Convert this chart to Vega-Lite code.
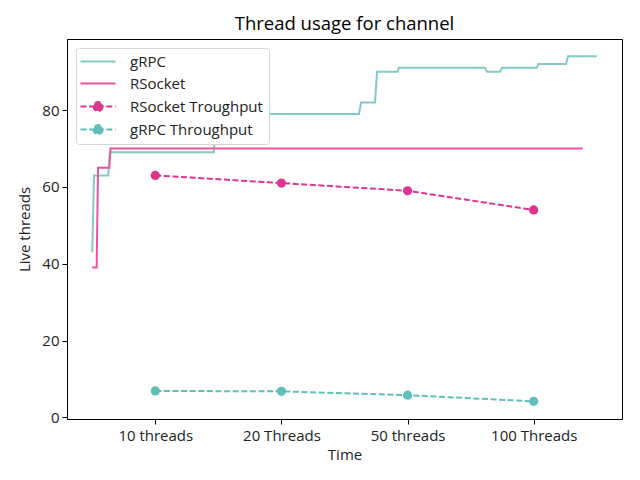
{
  "$schema": "https://vega.github.io/schema/vega-lite/v6.json",
  "width": 555,
  "height": 380,
  "autosize": {"type": "none"},
  "padding": {"left": 67, "top": 39, "right": 18, "bottom": 61},
  "title": {"text": "Thread usage for channel", "fontSize": 18.5, "fontWeight": "normal", "color": "#000", "offset": 6, "anchor": "middle"},
  "data": {"values": [
    {"series": "gRPC", "i": 0, "x": -0.5, "y": 43},
    {"series": "gRPC", "i": 1, "x": -0.486, "y": 63},
    {"series": "gRPC", "i": 2, "x": -0.373, "y": 63},
    {"series": "gRPC", "i": 3, "x": -0.359, "y": 69},
    {"series": "gRPC", "i": 4, "x": 0.465, "y": 69},
    {"series": "gRPC", "i": 5, "x": 0.481, "y": 79},
    {"series": "gRPC", "i": 6, "x": 1.615, "y": 79},
    {"series": "gRPC", "i": 7, "x": 1.631, "y": 82},
    {"series": "gRPC", "i": 8, "x": 1.742, "y": 82},
    {"series": "gRPC", "i": 9, "x": 1.758, "y": 90},
    {"series": "gRPC", "i": 10, "x": 1.919, "y": 90},
    {"series": "gRPC", "i": 11, "x": 1.932, "y": 91},
    {"series": "gRPC", "i": 12, "x": 2.614, "y": 91},
    {"series": "gRPC", "i": 13, "x": 2.63, "y": 90},
    {"series": "gRPC", "i": 14, "x": 2.733, "y": 90},
    {"series": "gRPC", "i": 15, "x": 2.749, "y": 91},
    {"series": "gRPC", "i": 16, "x": 3.024, "y": 91},
    {"series": "gRPC", "i": 17, "x": 3.038, "y": 92},
    {"series": "gRPC", "i": 18, "x": 3.256, "y": 92},
    {"series": "gRPC", "i": 19, "x": 3.272, "y": 94},
    {"series": "gRPC", "i": 20, "x": 3.5, "y": 94},
    {"series": "RSocket", "i": 0, "x": -0.5, "y": 39},
    {"series": "RSocket", "i": 1, "x": -0.465, "y": 39},
    {"series": "RSocket", "i": 2, "x": -0.454, "y": 65},
    {"series": "RSocket", "i": 3, "x": -0.365, "y": 65},
    {"series": "RSocket", "i": 4, "x": -0.355, "y": 70},
    {"series": "RSocket", "i": 5, "x": 3.388, "y": 70},
    {"series": "RSocket Troughput", "i": 0, "x": 0, "y": 63},
    {"series": "RSocket Troughput", "i": 1, "x": 1, "y": 61},
    {"series": "RSocket Troughput", "i": 2, "x": 2, "y": 59},
    {"series": "RSocket Troughput", "i": 3, "x": 3, "y": 54},
    {"series": "gRPC Throughput", "i": 0, "x": 0, "y": 6.9},
    {"series": "gRPC Throughput", "i": 1, "x": 1, "y": 6.8},
    {"series": "gRPC Throughput", "i": 2, "x": 2, "y": 5.8},
    {"series": "gRPC Throughput", "i": 3, "x": 3, "y": 4.2}
  ]},
  "encoding": {
    "x": {"field": "x", "type": "quantitative", "title": "Time",
      "scale": {"domain": [-0.7, 3.7], "nice": false, "zero": false},
      "axis": {"values": [0, 1, 2, 3], "labelExpr": "['10 threads','20 Threads','50 threads','100 Threads'][datum.value]", "labelPadding": 4, "titlePadding": 4}},
    "y": {"field": "y", "type": "quantitative", "title": "Live threads",
      "scale": {"domain": [-0.4, 98.5], "nice": false, "zero": false},
      "axis": {"values": [0, 20, 40, 60, 80], "titlePadding": 9}},
    "color": {"field": "series", "type": "nominal",
      "scale": {"domain": ["gRPC", "RSocket", "RSocket Troughput", "gRPC Throughput"], "range": ["#80cbc8", "#e8559f", "#dd3592", "#5fbfbb"]}},
    "order": {"field": "i", "type": "quantitative"}
  },
  "layer": [
    {
      "transform": [{"filter": "datum.series == 'gRPC' || datum.series == 'RSocket'"}],
      "mark": {"type": "line", "strokeWidth": 2},
      "encoding": {
        "color": {"field": "series", "type": "nominal",
          "legend": {
            "title": null, "orient": "top-left", "offset": 9,
            "symbolSize": 100, "symbolStrokeWidth": 2, "labelOffset": 33,
            "labelFontSize": 15, "labelColor": "#222", "rowPadding": 6,
            "padding": 6, "fillColor": "white", "strokeColor": "#d5d5d5", "cornerRadius": 3,
            "encode": {"symbols": {"update": {
              "shape": {"signal": "(datum.value == 'RSocket Troughput' || datum.value == 'gRPC Throughput') ? 'M-1.8,0H5.2M2.6,0A0.9,0.9,0,1,1,0.8,0A0.9,0.9,0,1,1,2.6,0Z' : 'M-1.8,0H5.2'"},
              "strokeDash": {"signal": "(datum.value == 'RSocket Troughput' || datum.value == 'gRPC Throughput') ? [6, 2.6] : []"},
              "fill": {"signal": "scale('color', datum.value)"},
              "stroke": {"signal": "scale('color', datum.value)"}
            }}}
          }}
      }
    },
    {
      "transform": [{"filter": "datum.series == 'RSocket Troughput' || datum.series == 'gRPC Throughput'"}],
      "mark": {"type": "line", "strokeWidth": 2, "strokeDash": [6, 2.6]},
      "encoding": {"color": {"field": "series", "type": "nominal", "legend": null}}
    },
    {
      "transform": [{"filter": "datum.series == 'RSocket Troughput' || datum.series == 'gRPC Throughput'"}],
      "mark": {"type": "circle", "size": 85, "opacity": 1},
      "encoding": {"color": {"field": "series", "type": "nominal", "legend": null}}
    }
  ],
  "config": {
    "font": "Open Sans",
    "view": {"stroke": "black", "strokeWidth": 1},
    "axis": {"grid": false, "domainColor": "black", "tickColor": "black", "labelColor": "#222", "titleColor": "#222",
      "labelFontSize": 15, "titleFontSize": 15, "titleFontWeight": "normal", "tickSize": 5, "labelPadding": 3}
  }
}
